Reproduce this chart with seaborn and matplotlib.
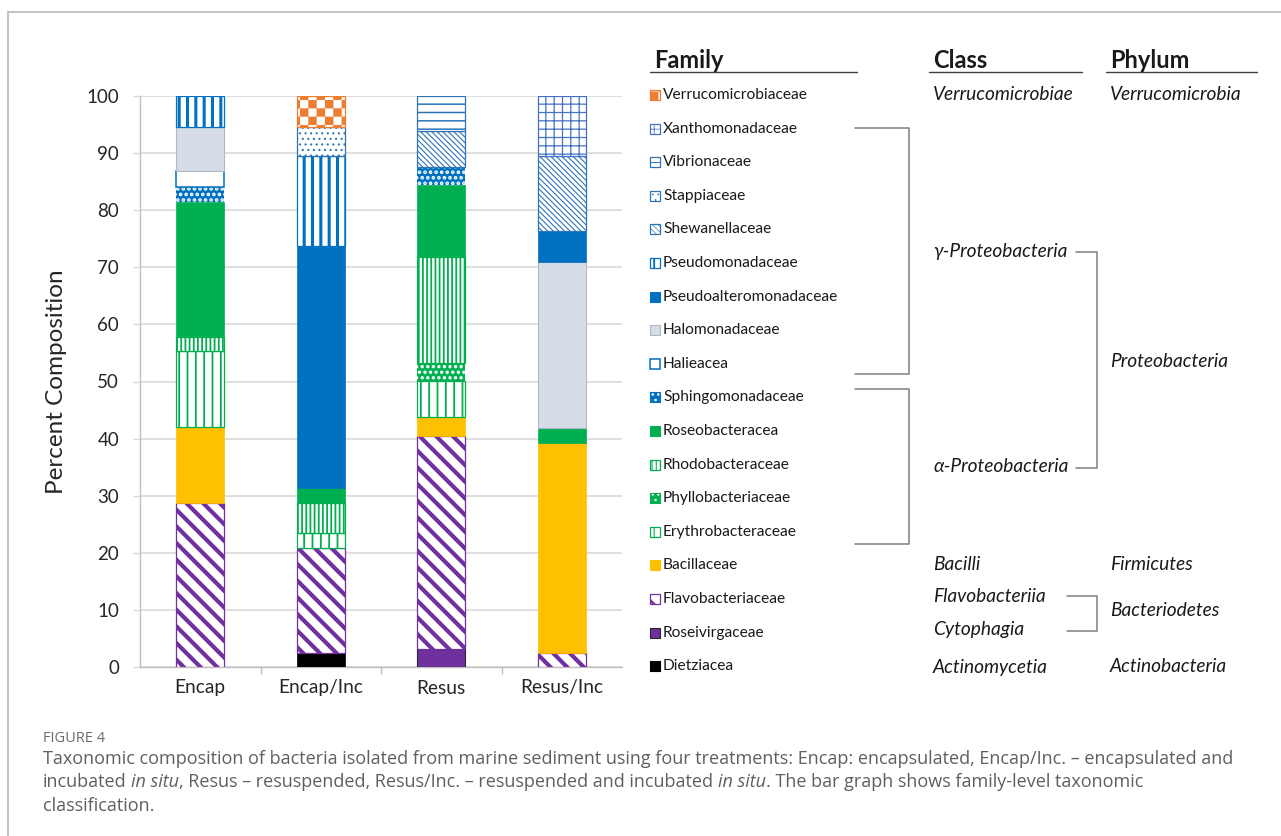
import numpy as np
import pandas as pd
import matplotlib
matplotlib.use("Agg")
import matplotlib.pyplot as plt
from matplotlib import hatch as mhatch
from matplotlib.path import Path
from matplotlib.patches import Rectangle
from matplotlib.lines import Line2D
import seaborn as sns

# ---------------------------------------------------------------- data
treatments = ["Encap", "Encap/Inc", "Resus", "Resus/Inc"]

# bacterial families, from the bottom of each stack to the top
families = ["Dietziacea", "Roseivirgaceae", "Flavobacteriaceae", "Bacillaceae",
            "Erythrobacteraceae", "Phyllobacteriaceae", "Rhodobacteraceae",
            "Roseobacteracea", "Sphingomonadaceae", "Halieacea", "Halomonadaceae",
            "Pseudoalteromonadaceae", "Pseudomonadaceae", "Shewanellaceae",
            "Stappiaceae", "Vibrionaceae", "Xanthomonadaceae", "Verrucomicrobiaceae"]

# percent of isolates per family (same order as `families`)
encap     = [0, 0, 28.8, 13.2, 13.3, 0, 2.5, 23.7, 2.6, 2.8, 7.7, 0, 5.4, 0, 0, 0, 0, 0]
encap_inc = [2.5, 0, 18.4, 0, 2.6, 0, 5.3, 2.6, 0, 0, 0, 42.3, 15.8, 0, 5.1, 0, 0, 5.4]
resus     = [0, 3.1, 37.4, 3.2, 6.4, 3.1, 18.6, 12.6, 3.2, 0, 0, 0, 0, 6.2, 0, 6.2, 0, 0]
resus_inc = [0, 0, 2.5, 36.8, 0, 0, 0, 2.6, 0, 0, 29.1, 5.4, 0, 13.1, 0, 0, 10.5, 0]

y_ticks = [0, 10, 20, 30, 40, 50, 60, 70, 80, 90, 100]

class_labels = ["Verrucomicrobiae", "γ-Proteobacteria", "α-Proteobacteria", "Bacilli",
                "Flavobacteriia", "Cytophagia", "Actinomycetia"]
phylum_labels = ["Verrucomicrobia", "Proteobacteria", "Firmicutes", "Bacteriodetes",
                 "Actinobacteria"]

# ---------------------------------------------------------------- styles
BLUE, BLUE2, NAVY = "#0070C0", "#2E75B6", "#4472C4"
GREEN, PURPLE, GOLD, ORANGE = "#00B050", "#7030A0", "#FFC000", "#ED7D31"

# face, edge/hatch colour, hatch, hatch linewidth (pt), edge linewidth (pt)
styles = {
    "Dietziacea":             ("black",   "black",   None,           0.0, 0.5),
    "Roseivirgaceae":         (PURPLE,    "#262626", None,           0.0, 0.8),
    "Flavobacteriaceae":      ("white",   PURPLE,    "\\\\",         3.0, 0.9),
    "Bacillaceae":            (GOLD,      GOLD,      None,           0.0, 0.5),
    "Erythrobacteraceae":     ("white",   GREEN,     "||",           1.3, 0.9),
    "Phyllobacteriaceae":     (GREEN,     "white",   "...",          1.6, 0.0),
    "Rhodobacteraceae":       ("white",   GREEN,     "||||",         1.3, 0.9),
    "Roseobacteracea":        (GREEN,     GREEN,     None,           0.0, 0.5),
    "Sphingomonadaceae":      (BLUE,      "white",   "...",          1.8, 0.0),
    "Halieacea":              ("white",   BLUE,      None,           0.0, 1.1),
    "Halomonadaceae":         ("#D6DCE5", "#ADB9CA", None,           0.0, 0.8),
    "Pseudoalteromonadaceae": (BLUE,      BLUE,      None,           0.0, 0.5),
    "Pseudomonadaceae":       ("white",   BLUE,      "||",           2.2, 0.9),
    "Shewanellaceae":         ("white",   BLUE2,     "\\" * 6,       0.8, 0.9),
    "Stappiaceae":            ("white",   BLUE2,     "...",          0.8, 0.9),
    "Vibrionaceae":           ("white",   BLUE2,     "--",           1.1, 0.9),
    "Xanthomonadaceae":       ("white",   NAVY,      "++",           0.9, 0.9),
    "Verrucomicrobiaceae":    ("white",   ORANGE,    "**",           0.1, 0.9),
}


class CheckerHatch(mhatch.HatchPatternBase):
    """Filled checkerboard squares, selected with '*' in a hatch string."""
    filled = True

    def __init__(self, hatch, density):
        self.num_cells = hatch.count("*") * density
        n = self.num_cells
        self.cells = [(i, j) for i in range(n) for j in range(n) if (i + j) % 2 == 0]
        self.num_vertices = 5 * len(self.cells)

    def set_vertices_and_codes(self, vertices, codes):
        s = 1.0 / self.num_cells
        for k, (i, j) in enumerate(self.cells):
            x0, y0 = i * s, j * s
            vertices[5 * k:5 * k + 5] = [(x0, y0), (x0 + s, y0), (x0 + s, y0 + s),
                                         (x0, y0 + s), (x0, y0)]
            codes[5 * k] = Path.MOVETO
            codes[5 * k + 1:5 * k + 4] = Path.LINETO
            codes[5 * k + 4] = Path.CLOSEPOLY


mhatch._hatch_types = [t for t in mhatch._hatch_types if t is not mhatch.Stars] + [CheckerHatch]

# ---------------------------------------------------------------- figure
sns.set_theme(style="white")
plt.rcParams["font.family"] = ["Lato", "Open Sans", "DejaVu Sans"]
plt.rcParams["hatch.linewidth"] = 1.0

W, H = 1281, 836
fig = plt.figure(figsize=(W / 100, H / 100), dpi=100)
fig.patch.set_facecolor("white")


def fx(x):
    return x / W


def fy(y):
    return 1 - y / H


ax = fig.add_axes([fx(140), fy(667), (622 - 140) / W, (667 - 96) / H])

long = pd.DataFrame({
    "treatment": np.repeat(treatments, len(families)),
    "family": families * len(treatments),
    "share": np.concatenate([encap, encap_inc, resus, resus_inc]),
})
long["base"] = long.groupby("treatment", sort=False)["share"].cumsum() - long["share"]


def apply_hatch_width(patches, hlw):
    for p in patches:
        if hasattr(p, "set_hatch_linewidth"):
            p.set_hatch_linewidth(hlw)


for fam in families:
    face, edge, hatch, hlw, lw = styles[fam]
    sub = long[(long["family"] == fam) & (long["share"] > 0)]
    if sub.empty:
        continue
    plt.rcParams["hatch.linewidth"] = max(hlw, 0.1)
    n_before = len(ax.patches)
    sns.barplot(data=sub, x="treatment", y="share", order=treatments,
                bottom=sub["base"].to_numpy(), width=0.4, color=face,
                saturation=1, errorbar=None, edgecolor=edge, linewidth=lw,
                hatch=hatch, ax=ax, zorder=3)
    apply_hatch_width(ax.patches[n_before:], max(hlw, 0.1))

# axes styling
ax.set_ylim(0, 100)
ax.set_xlim(-0.5, 3.5)
ax.set_yticks(y_ticks)
ax.set_yticklabels([str(v) for v in y_ticks])
ax.yaxis.grid(True, color="#D9D9D9", linewidth=1.2, zorder=0)
ax.xaxis.grid(False)
ax.set_axisbelow(True)
for side in ("top", "right"):
    ax.spines[side].set_visible(False)
for side in ("left", "bottom"):
    ax.spines[side].set_color("#BFBFBF")
    ax.spines[side].set_linewidth(1.0)
ax.tick_params(axis="y", which="major", length=5, width=1, color="#D9D9D9",
               pad=10, labelsize=13.5, labelcolor="#262626", left=True)
ax.set_xticks(range(len(treatments)))
ax.set_xticklabels(treatments)
ax.set_xticks([0.5, 1.5, 2.5], minor=True)
ax.tick_params(axis="x", which="major", length=0, pad=9, labelsize=13.8,
               labelcolor="#262626")
ax.tick_params(axis="x", which="minor", length=5, width=1, color="#BFBFBF",
               direction="out", bottom=True)
ax.set_xlabel("")
ax.set_ylabel("Percent Composition", fontsize=17.5, color="#262626", labelpad=14)

# ---------------------------------------------------------------- legend column
legend_order = families[::-1]
row0, row_step = 95, 33.6
for i, fam in enumerate(legend_order):
    face, edge, hatch, hlw, lw = styles[fam]
    yc = row0 + i * row_step
    plt.rcParams["hatch.linewidth"] = max(hlw, 0.1) * 0.6
    sq = Rectangle((fx(650), fy(yc + 5)), 10 / W, 10 / H, transform=fig.transFigure,
                   facecolor=face, edgecolor=edge, hatch=hatch,
                   linewidth=max(lw, 0.8) if lw > 0 else 0)
    if hasattr(sq, "set_hatch_linewidth"):
        sq.set_hatch_linewidth(max(hlw, 0.1) * 0.6)
    fig.add_artist(sq)
    if lw == 0:
        fig.add_artist(Rectangle((fx(650), fy(yc + 5)), 10 / W, 10 / H,
                                 transform=fig.transFigure, facecolor="none",
                                 edgecolor=face, linewidth=0.8))
    fig.text(fx(663), fy(yc), fam, fontsize=11.2, color="#1a1a1a", va="center",
             ha="left")

# column headers with underlines
for label, x0, x1 in (("Family", 654, 857), ("Class", 933, 1082), ("Phylum", 1110, 1257)):
    fig.text(fx(x0), fy(60), label, fontsize=17, fontweight="bold", color="#1a1a1a",
             va="center", ha="left")
    fig.add_artist(Line2D([fx(x0 - 4), fx(x1)], [fy(72), fy(72)],
                          transform=fig.transFigure, color="#404040", linewidth=1.0))

class_y = [95, 251, 467, 565, 597, 629, 667]
for lab, yc in zip(class_labels, class_y):
    fig.text(fx(933), fy(yc), lab, fontsize=13.8, style="italic", color="#1a1a1a",
             va="center", ha="left")

phylum_y = [95, 361, 565, 610, 667]
for lab, yc in zip(phylum_labels, phylum_y):
    fig.text(fx(1110), fy(yc), lab, fontsize=13.8, style="italic", color="#1a1a1a",
             va="center", ha="left")


def bracket(x0, x1, y0, y1):
    xs = [fx(x0), fx(x1), fx(x1), fx(x0)]
    ys = [fy(y0), fy(y0), fy(y1), fy(y1)]
    fig.add_artist(Line2D(xs, ys, transform=fig.transFigure, color="#7F7F7F",
                          linewidth=1.1))


bracket(855, 909, 128, 374)     # gamma-Proteobacteria families
bracket(855, 909, 389, 544)     # alpha-Proteobacteria families
bracket(1076, 1097, 252, 468)   # Proteobacteria classes
bracket(1067, 1097, 596, 631)   # Bacteriodetes classes

# ---------------------------------------------------------------- frame and caption
fig.add_artist(Line2D([fx(8), fx(W)], [fy(12), fy(12)], transform=fig.transFigure,
                      color="#BDBDBD", linewidth=1.3))
fig.add_artist(Line2D([fx(8), fx(8)], [fy(12), fy(H)], transform=fig.transFigure,
                      color="#BDBDBD", linewidth=1.3))

cap_font = ["Open Sans", "DejaVu Sans"]
cap_color = "#5f5f5f"
fig.text(fx(43), fy(738), "FIGURE 4", fontsize=10.5, color="#6b6b6b", family=cap_font,
         va="center", ha="left")

caption_lines = [
    [("Taxonomic composition of bacteria isolated from marine sediment using four "
      "treatments: Encap: encapsulated, Encap/Inc. \u2013 encapsulated and", "normal")],
    [("incubated ", "normal"), ("in situ", "italic"),
     (", Resus \u2013 resuspended, Resus/Inc. \u2013 resuspended and incubated ", "normal"),
     ("in situ", "italic"), (". The bar graph shows family-level taxonomic", "normal")],
    [("classification.", "normal")],
]
cap_size = 12.95
renderer = fig.canvas.get_renderer()


def text_width(s, style):
    t = fig.text(0, 0, s, fontsize=cap_size, family=cap_font, style=style)
    w = t.get_window_extent(renderer).width
    t.remove()
    return w


space_w = text_width("a a", "normal") - text_width("aa", "normal")

for line, base in zip(caption_lines, [764, 787, 811]):
    x = 43
    for s, style in line:
        lead = len(s) - len(s.lstrip(" "))
        trail = len(s) - len(s.rstrip(" "))
        core = s.strip(" ")
        x += lead * space_w
        t = fig.text(fx(x), fy(base), core, fontsize=cap_size, family=cap_font,
                     style=style, color=cap_color, va="baseline", ha="left")
        x += t.get_window_extent(renderer).width + trail * space_w

fig.savefig("out.png", dpi=100, facecolor="white")
